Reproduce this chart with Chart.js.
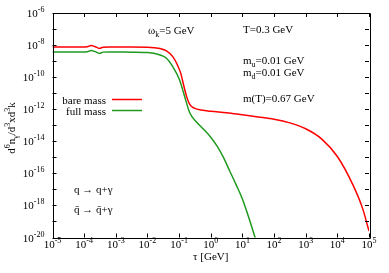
<!DOCTYPE html>
<html>
<head>
<meta charset="utf-8">
<script src="https://cdn.jsdelivr.net/npm/chart.js@4.4.1/dist/chart.umd.min.js"></script>
<style>
  html, body { margin: 0; padding: 0; background: #fff; }
  #wrap { width: 389px; height: 273px; position: relative; }
</style>
</head>
<body>
<div id="wrap"><canvas id="c"></canvas></div>
<script>
// tau in GeV (log10) and d6n/d3xd3k (log10)
const redLogTau = [-5, -4.3, -3.9, -3.78, -3.65, -3.52, -3.4, -3.2, -2.5, -2.0, -1.6, -1.4, -1.2, -1.05, -0.95, -0.85, -0.76, -0.66, -0.5, -0.3, 0, 0.5, 1.0, 1.5, 2.0, 2.5, 3.0, 3.5, 4.0, 4.5, 4.8, 5.0];
const redLogVal = [-8.12, -8.12, -8.10, -8.03, -8.10, -8.21, -8.13, -8.12, -8.12, -8.13, -8.22, -8.36, -8.72, -9.25, -9.75, -10.55, -11.23, -11.72, -11.95, -12.05, -12.13, -12.22, -12.35, -12.48, -12.62, -12.85, -13.22, -13.85, -14.95, -16.75, -18.2, -19.6];
const greenLogTau = [-5, -4.3, -3.9, -3.78, -3.65, -3.52, -3.4, -3.2, -2.5, -2.0, -1.6, -1.4, -1.2, -1.0, -0.9, -0.82, -0.66, -0.45, -0.2, 0, 0.2, 0.4, 0.6, 0.8, 1.0, 1.2, 1.4, 1.5];
const greenLogVal = [-8.43, -8.43, -8.41, -8.34, -8.41, -8.52, -8.44, -8.43, -8.44, -8.46, -8.62, -8.82, -9.35, -10.1, -10.7, -11.24, -12.24, -12.8, -13.3, -13.75, -14.3, -15.0, -15.85, -16.7, -17.6, -18.75, -20.0, -20.7];

const seriesLabels = ["bare mass", "full mass"];
const seriesColors = ["#ff0000", "#1f9a1f"];

const xTickExps = [-5, -4, -3, -2, -1, 0, 1, 2, 3, 4, 5];
const yTickExps = [-20, -19, -18, -17, -16, -15, -14, -13, -12, -11, -10, -9, -8, -7, -6];
const yLabelExps = [-20, -18, -16, -14, -12, -10, -8, -6];

const FONT = '"Liberation Serif", "Times New Roman", serif';

function toPoints(lx, ly) {
  return lx.map((v, i) => ({ x: Math.pow(10, v), y: Math.pow(10, ly[i]) }));
}

function drawRich(ctx, parts, x, y, align) {
  let w = 0;
  parts.forEach(([t, m]) => {
    ctx.font = (m ? 8 : 11) + "px " + FONT;
    w += ctx.measureText(t).width;
  });
  let cx = align === "right" ? x - w : align === "center" ? x - w / 2 : x;
  parts.forEach(([t, m]) => {
    ctx.font = (m ? 8 : 11) + "px " + FONT;
    const dy = m === "sup" ? -5 : m === "sub" ? 3 : 0;
    ctx.fillText(t, cx, y + dy);
    cx += ctx.measureText(t).width;
  });
}

function pow10(e) { return [["10", 0], [String(e), "sup"]]; }

const notes = [
  { parts: [["ω", 0], ["k", "sub"], ["=5 GeV", 0]], x: 148, y: 34 },
  { parts: [["T=0.3 GeV", 0]], x: 243, y: 33 },
  { parts: [["m", 0], ["u", "sub"], ["=0.01 GeV", 0]], x: 243, y: 64 },
  { parts: [["m", 0], ["d", "sub"], ["=0.01 GeV", 0]], x: 243, y: 76 },
  { parts: [["m(T)=0.67 GeV", 0]], x: 243, y: 102 },
  { parts: [["q → q+γ", 0]], x: 74, y: 193 },
  { parts: [["q\u0304 → q\u0304+γ", 0]], x: 74, y: 213 }
];

const gnuplotFrame = {
  id: "gnuplotFrame",
  afterDraw(chart) {
    const { ctx, chartArea: a, scales } = chart;
    const xs = scales.x, ys = scales.y;
    ctx.save();
    ctx.strokeStyle = "#000";
    ctx.fillStyle = "#000";
    ctx.lineWidth = 1;
    ctx.beginPath();
    ctx.rect(Math.round(a.left) + 0.5, Math.round(a.top) + 0.5, Math.round(a.right - a.left), Math.round(a.bottom - a.top));
    ctx.stroke();
    ctx.beginPath();
    xTickExps.forEach(e => {
      const px = Math.round(xs.getPixelForValue(Math.pow(10, e))) + 0.5;
      ctx.moveTo(px, a.bottom); ctx.lineTo(px, a.bottom - 4);
      ctx.moveTo(px, a.top); ctx.lineTo(px, a.top + 4);
    });
    yTickExps.forEach(e => {
      const py = Math.round(ys.getPixelForValue(Math.pow(10, e))) + 0.5;
      ctx.moveTo(a.left, py); ctx.lineTo(a.left + 4, py);
      ctx.moveTo(a.right, py); ctx.lineTo(a.right - 4, py);
    });
    ctx.stroke();

    ctx.textBaseline = "alphabetic";
    xTickExps.forEach(e => {
      drawRich(ctx, pow10(e), xs.getPixelForValue(Math.pow(10, e)), a.bottom + 10.5, "center");
    });
    yLabelExps.forEach(e => {
      drawRich(ctx, pow10(e), a.left - 8, ys.getPixelForValue(Math.pow(10, e)) + 4, "right");
    });

    drawRich(ctx, [["τ [GeV]", 0]], (a.left + a.right) / 2, a.bottom + 22.5, "center");

    ctx.save();
    ctx.translate(15, 128);
    ctx.rotate(-Math.PI / 2);
    drawRich(ctx, [["d", 0], ["6", "sup"], ["n", 0], ["γ", "sub"], ["/d", 0], ["3", "sup"], ["xd", 0], ["3", "sup"], ["k", 0]], 0, 0, "center");
    ctx.restore();

    notes.forEach(n => drawRich(ctx, n.parts, n.x, n.y, "left"));

    chart.data.datasets.forEach((ds, i) => {
      const ly = 99.5 + i * 11;
      drawRich(ctx, [[ds.label, 0]], 106, ly + 4, "right");
      ctx.strokeStyle = ds.borderColor;
      ctx.lineWidth = 1.5;
      ctx.beginPath();
      ctx.moveTo(112, ly); ctx.lineTo(142, ly);
      ctx.stroke();
    });
    ctx.restore();
  }
};

new Chart(document.getElementById("c"), {
  type: "line",
  data: {
    datasets: [
      { label: seriesLabels[0], data: toPoints(redLogTau, redLogVal), borderColor: seriesColors[0] },
      { label: seriesLabels[1], data: toPoints(greenLogTau, greenLogVal), borderColor: seriesColors[1] }
    ]
  },
  options: {
    responsive: true,
    maintainAspectRatio: false,
    animation: false,
    layout: { padding: { top: 13, right: 20, left: 0, bottom: 0 } },
    elements: {
      point: { radius: 0 },
      line: { borderWidth: 1.5, cubicInterpolationMode: "monotone", fill: false }
    },
    plugins: { legend: { display: false }, tooltip: { enabled: false } },
    scales: {
      x: {
        type: "logarithmic",
        min: 1e-5,
        max: 1e5,
        grid: { display: false },
        border: { display: false },
        ticks: { display: false },
        afterBuildTicks: s => { s.ticks = xTickExps.map(e => ({ value: Math.pow(10, e) })); },
        afterFit: s => { s.height = 35.5; }
      },
      y: {
        type: "logarithmic",
        min: 1e-20,
        max: 1e-6,
        grid: { display: false },
        border: { display: false },
        ticks: { display: false },
        afterBuildTicks: s => { s.ticks = yTickExps.map(e => ({ value: Math.pow(10, e) })); },
        afterFit: s => { s.width = 52.5; }
      }
    }
  },
  plugins: [gnuplotFrame]
});
</script>
</body>
</html>
